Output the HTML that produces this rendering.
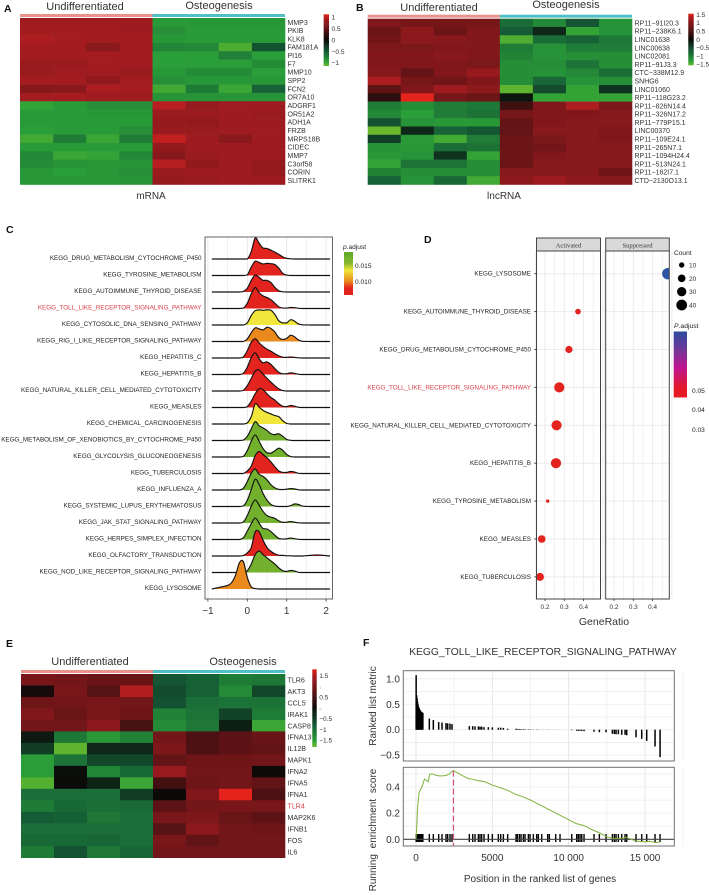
<!DOCTYPE html>
<html lang="en">
<head>
<meta charset="utf-8">
<title>Heatmaps and KEGG enrichment figure</title>
<style>
html,body{margin:0;padding:0;background:#fff;}
svg{display:block;font-family:"Liberation Sans",sans-serif;filter:blur(0.35px);}
text{fill:#222;}
.h{font-size:11px;text-anchor:middle;fill:#333;}
.p{font-size:10.5px;font-weight:bold;fill:#111;}
.l{font-size:6.6px;fill:#222;}
.a{font-size:10px;fill:#333;}
</style>
</head>
<body>
<svg id="fig" xmlns="http://www.w3.org/2000/svg" width="709" height="895" viewBox="0 0 709 895">
<defs>
<linearGradient id="gradC" x1="0" y1="0" x2="0" y2="1">
<stop offset="0" stop-color="#5fa92e"/><stop offset="0.26" stop-color="#86b62c"/><stop offset="0.42" stop-color="#f0e63c"/><stop offset="0.68" stop-color="#ea8a1e"/><stop offset="0.84" stop-color="#e3231d"/><stop offset="1" stop-color="#e3231d"/>
</linearGradient>
<linearGradient id="gradD" x1="0" y1="0" x2="0" y2="1">
<stop offset="0" stop-color="#2b4a9e"/><stop offset="0.25" stop-color="#6a3a9a"/><stop offset="0.55" stop-color="#bf1590"/><stop offset="0.85" stop-color="#e3182a"/><stop offset="1" stop-color="#e81c20"/>
</linearGradient>
<clipPath id="clipAct"><rect x="536.5" y="251" width="64" height="348"/></clipPath>
<clipPath id="clipSup"><rect x="605.5" y="251" width="64" height="348"/></clipPath>
</defs>

<text class="p" x="4" y="12">A</text>
<text class="p" x="356" y="11">B</text>
<text class="p" x="6" y="233">C</text>
<text class="p" x="424" y="243">D</text>
<text class="p" x="6" y="647">E</text>
<text class="p" x="363" y="646">F</text>

<text class="h" x="85" y="10">Undifferentiated</text>
<text class="h" x="219" y="9">Osteogenesis</text>
<text class="h" x="151" y="199" style="font-size:10px">mRNA</text>
<text class="h" x="439" y="11">Undifferentiated</text>
<text class="h" x="566" y="8">Osteogenesis</text>
<text class="h" x="504" y="199" style="font-size:10px">lncRNA</text>
<text class="h" x="90" y="665">Undifferentiated</text>
<text class="h" x="243" y="665">Osteogenesis</text>

<g id="hmA"></g>
<g id="hmB"></g>
<g id="hmE"></g>

<rect x="205" y="237" width="127.5" height="362" fill="#fff" stroke="#666" stroke-width="1"/>
<g id="ridge"></g>
<text x="343" y="249" style="font-size:6.6px"><tspan font-style="italic">p</tspan>.adjust</text>
<rect x="344" y="252" width="9" height="43" fill="url(#gradC)"/>
<text x="355" y="268" class="l">0.015</text>
<text x="355" y="284" class="l">0.010</text>

<g id="dot"></g>
<text x="604" y="625" text-anchor="middle" style="font-size:10.5px;fill:#333">GeneRatio</text>
<text x="674" y="255" class="l">Count</text>
<text x="674" y="328" style="font-size:6.8px"><tspan font-style="italic">P</tspan>.adjust</text>
<rect x="673.7" y="331.5" width="13.3" height="66" fill="url(#gradD)"/>
<text x="692" y="393" class="l">0.05</text>
<text x="692" y="412" class="l">0.04</text>
<text x="692" y="432" class="l">0.03</text>

<text x="543" y="655" text-anchor="middle" style="font-size:10.3px;fill:#333">KEGG_TOLL_LIKE_RECEPTOR_SIGNALING_PATHWAY</text>
<g id="gsea"></g>
<text x="540" y="882" text-anchor="middle" class="a">Position in the ranked list of genes</text>
<text transform="translate(376,706) rotate(-90)" text-anchor="middle" class="a">Ranked list metric</text>
<text transform="translate(376,830) rotate(-90)" text-anchor="middle" class="a" style="word-spacing:3px">Running enrichment score</text>
</svg>

<script>
/* ---------- heatmap data ---------- */
const genesA = ["MMP3","PKIB","KLK8","FAM181A","PI16","F7","MMP10","SPP2","FCN2","OR7A10","ADGRF1","OR51A2","ADH1A","FRZB","MRPS18B","CIDEC","MMP7","C3orf58","CORIN","SLITRK1"];
const valuesA = [
[.88,.88,.88,.88,-.92,-.9,-.9,-.9],
[.9,.9,.9,.88,-.85,-.92,-.92,-.92],
[.95,.92,.9,.9,-.9,-.92,-.92,-.92],
[.92,.9,.75,.88,-.78,-.8,-1.05,-.45],
[.9,.9,.92,.9,-.95,-.95,-.75,-.95],
[.85,.85,.9,.88,-.95,-.95,-.95,-.82],
[.85,.88,.88,.85,-.9,-.82,-.82,-.95],
[.92,.9,.78,.9,-.85,-.9,-.9,-.9],
[.72,.74,.95,.92,-1.02,-.72,-1,-.55],
[.92,.92,.88,.88,-.88,-.88,-.88,-.88],
[-.98,-.92,-.85,-.85,.98,.82,.88,.88],
[-.92,-.92,-.9,-.9,.85,.85,.88,.85],
[-.92,-.92,-.92,-.92,.82,.8,.88,.88],
[-.95,-.92,-.92,-.85,.85,.85,.88,.88],
[-1.02,-.72,-1,-.72,1.02,.88,.75,.88],
[-.92,-.92,-.92,-.92,.8,.88,.88,.88],
[-.8,-1,-.98,-.8,.72,.85,.88,.88],
[-.82,-.88,-.9,-.88,.98,.8,.88,.82],
[-.9,-.95,-.9,-.85,.85,.88,.88,.82],
[-.9,-.9,-.9,-.88,.82,.85,.88,.88]];
const ticksA = [1,0.5,0,-0.5,-1];

const genesB = ["RP11−91I20.3","RP11−238K6.1","LINC01638","LINC00638","LINC02081","RP11−91J3.3","CTC−338M12.9","SNHG6","LINC01060","RP11−118G23.2","RP11−826N14.4","RP11−326N17.2","RP11−779P15.1","LINC00370","RP11−109E24.1","RP11−265N7.1","RP11−1094H24.4","RP11−513N24.1","RP11−162I7.1","CTD−2130O13.1"];
const valuesB = [
[.95,.85,.85,.85,-.85,-1.1,-.65,-1.2],
[.75,1.05,.75,.95,-.7,-.25,-1.35,-1.2],
[.8,1.05,1,.95,-1.45,-.85,-.75,-.95],
[.9,.9,.95,.95,-1,-1.2,-1,-1],
[.95,.95,1,.95,-1.05,-1.2,-1.15,-1.15],
[.95,.95,.95,.9,-1.15,-1.15,-.9,-1.15],
[1,.7,.95,1.15,-1.15,-1.2,-1.1,-.85],
[1.3,.85,.8,.95,-1.15,-.8,-1.2,-1.15],
[.65,.95,1.2,1.05,-1.5,-.55,-1.35,-.35],
[.25,1.6,.85,.75,-.1,-1.35,-1.35,-1.35],
[-1,-1.15,-1,-.95,.4,.95,1.3,.9],
[-1.1,-1.3,-1,-.9,.85,.95,.95,1],
[-.6,-1.2,-1.25,-1.25,.7,.95,1,1],
[-1.6,-.25,-.75,-.65,.7,1,1,.95],
[-.45,-1.25,-1.4,-1,.75,.9,1,.95],
[-1.2,-1.25,-.85,-.9,.75,.8,1,1],
[-1.25,-1.2,-.35,-1.35,.75,.95,1,1],
[-1.35,-.9,-.9,-1.15,.75,1,1,1],
[-1.05,-1.15,-1.15,-1.15,1,1,1,.8],
[-.75,-1.2,-.8,-1.4,1.05,1.2,1.05,1]];
const ticksB = [1.5,1,0.5,0,-0.5,-1,-1.5];

const genesE = ["TLR6","AKT3","CCL5","IRAK1","CASP8","IFNA13","IL12B","MAPK1","IFNA2","IFNA5","IFNA1","TLR4","MAP2K6","IFNB1","FOS","IL6"];
const valuesE = [
[1,.95,.85,.85,-.75,-.85,-1.15,-1.1],
[.1,1,.7,1.55,-.65,-.85,-1.3,-.6],
[.9,.95,1,.95,-.7,-1,-1.05,-1.05],
[1.1,.85,1,.9,-1.2,-1.05,-.55,-1.15],
[.95,.95,1.2,.55,-1.3,-1.1,-.2,-1.6],
[-.15,-1.1,-1.45,-1.2,.95,.6,.75,.85],
[-.5,-1.75,-.3,-.3,1.05,.6,.75,.8],
[-1.5,-1.05,-.6,-.6,.8,.9,.9,.95],
[-1.5,-.03,-1.25,-.95,1.35,.95,.95,.02],
[-1.7,-.02,-.25,-1.6,.5,.9,.95,.8],
[-1,-1,-1,-.5,0,1.1,1.85,.6],
[-1.15,-.95,-1,-.95,.75,.95,1,1],
[-.8,-.85,-1.1,-1,1,1.05,.85,.75],
[-1,-1,-1,-1,.7,1.2,.95,.9],
[-.95,-.95,-.9,-1,1,.8,.95,.95],
[-1.15,-.7,-1.1,-.9,.95,.95,.95,.95]];
const ticksE = [1.5,1,0.5,0,-0.5,-1,-1.5];

/* ---------- ridge plot data ---------- */
const ridgePathways = ["KEGG_DRUG_METABOLISM_CYTOCHROME_P450","KEGG_TYROSINE_METABOLISM","KEGG_AUTOIMMUNE_THYROID_DISEASE","KEGG_TOLL_LIKE_RECEPTOR_SIGNALING_PATHWAY","KEGG_CYTOSOLIC_DNA_SENSING_PATHWAY","KEGG_RIG_I_LIKE_RECEPTOR_SIGNALING_PATHWAY","KEGG_HEPATITIS_C","KEGG_HEPATITIS_B","KEGG_NATURAL_KILLER_CELL_MEDIATED_CYTOTOXICITY","KEGG_MEASLES","KEGG_CHEMICAL_CARCINOGENESIS","KEGG_METABOLISM_OF_XENOBIOTICS_BY_CYTOCHROME_P450","KEGG_GLYCOLYSIS_GLUCONEOGENESIS","KEGG_TUBERCULOSIS","KEGG_INFLUENZA_A","KEGG_SYSTEMIC_LUPUS_ERYTHEMATOSUS","KEGG_JAK_STAT_SIGNALING_PATHWAY","KEGG_HERPES_SIMPLEX_INFECTION","KEGG_OLFACTORY_TRANSDUCTION","KEGG_NOD_LIKE_RECEPTOR_SIGNALING_PATHWAY","KEGG_LYSOSOME"];
const ridgePadj = [.007,.007,.007,.007,.0137,.0105,.007,.007,.007,.007,.0137,.018,.018,.007,.018,.018,.018,.018,.007,.018,.0105];
const ridgeX = [-.9,-.7,-.5,-.4,-.3,-.2,-.1,0,.1,.2,.3,.4,.5,.6,.7,.8,.9,1,1.1,1.2,1.3,1.4,1.6,1.8,2.1];
const ridgeDensity = [
[0,0,0,0,0,0,0,0,.35,1,.75,.52,.5,.42,.33,.22,.1,.03,.01,0,0,0,0,0,0],
[0,0,0,0,0,0,0,.03,.4,.68,.62,.55,.58,.56,.52,.35,.1,.02,0,0,0,0,0,0,0],
[0,0,0,0,0,0,.02,.18,.55,.8,.7,.55,.55,.45,.22,.06,.01,0,0,0,0,0,0,0,0],
[0,0,0,0,0,0,.02,.25,.7,1,.75,.6,.52,.42,.25,.08,.02,.02,.05,.04,.01,0,0,0,0],
[0,0,0,0,0,0,0,.1,.45,.68,.72,.7,.72,.7,.5,.2,.1,.1,.25,.18,.05,.01,0,0,0],
[0,0,0,0,0,0,0,.12,.42,.65,.6,.55,.68,.62,.45,.18,.1,.15,.3,.22,.07,.01,0,0,0],
[0,0,0,0,0,0,.05,.35,.75,.92,.72,.55,.42,.32,.2,.1,.04,.03,.05,.03,.01,0,0,0,0],
[0,0,0,0,0,0,.06,.35,.8,1.03,.75,.55,.6,.48,.28,.1,.03,.04,.08,.05,.01,0,0,0,0],
[0,0,0,0,0,0,.03,.25,.6,.95,1,.8,.6,.42,.25,.1,.02,0,0,0,0,0,0,0,0],
[0,0,0,0,0,0,0,.04,.3,.65,.9,.85,.65,.48,.35,.18,.06,.04,.1,.06,.01,0,0,0,0],
[0,0,0,0,0,0,0,.05,.35,.95,.8,.65,.55,.48,.4,.35,.15,.03,0,0,0,0,0,0,0],
[0,0,0,0,0,0,.02,.2,.55,.9,.7,.6,.48,.32,.28,.32,.2,.05,.01,0,0,0,0,0,0],
[0,0,0,0,0,0,.03,.3,.75,1.05,.75,.4,.2,.18,.3,.42,.32,.12,.02,0,0,0,0,0,0],
[0,0,0,0,0,0,0,.12,.35,.85,1.05,.9,.75,.55,.32,.12,.05,.05,.1,.07,.01,0,0,0,0],
[0,0,0,0,0,0,.08,.4,.8,1,.75,.65,.48,.25,.1,.03,.02,.04,.07,.05,.01,0,0,0,0],
[0,0,0,0,0,0,.03,.3,.8,1.3,1.05,.62,.3,.1,.02,0,0,0,.04,.12,.1,.02,0,0,0],
[0,0,0,0,0,0,.05,.35,.8,1.1,.85,.55,.35,.28,.22,.1,.03,.04,.07,.04,.01,0,0,0,0],
[0,0,0,0,0,0,.08,.4,.75,1.02,.78,.52,.5,.38,.2,.05,.02,.03,.07,.04,.01,0,0,0,0],
[0,0,0,0,0,0,.02,.15,.4,1.15,1.15,.75,.4,.22,.1,.04,.03,.01,.01,0,0,0,.03,.05,0],
[0,0,0,0,0,0,0,.08,.4,.85,1.02,.85,.7,.55,.4,.22,.08,.05,.1,.07,.01,0,0,0,0],
[0,.08,.17,.3,.65,1.25,1.3,.55,.1,.02,0,0,0,0,0,0,0,0,0,0,0,0,0,0,0]];
const ridgeTicks = [-1,0,1,2];

/* ---------- dot plot data ---------- */
const dotPathways = ["KEGG_LYSOSOME","KEGG_AUTOIMMUNE_THYROID_DISEASE","KEGG_DRUG_METABOLISM_CYTOCHROME_P450","KEGG_TOLL_LIKE_RECEPTOR_SIGNALING_PATHWAY","KEGG_NATURAL_KILLER_CELL_MEDIATED_CYTOTOXICITY","KEGG_HEPATITIS_B","KEGG_TYROSINE_METABOLISM","KEGG_MEASLES","KEGG_TUBERCULOSIS"];
const dotFacet = [1,0,0,0,0,0,0,0,0];
const dotRatio = [.479,.371,.324,.274,.26,.257,.214,.183,.174];
const dotCount = [45,11,18,36,36,36,4,20,22];
const dotTicks = [.2,.3,.4];
const legendCounts = [10,20,30,40];

/* ---------- GSEA data ---------- */
const hitRank = [10,40,70,100,130,160,200,240,280,320,360,400,450,873,1135,1485,1703,1965,2074,2227,2358,3493,3712,3865,4083,4192,4301,4454,4738,5000,5393,5546,5721,6004,6550,6638,6769,6878,7031,7140,7358,7467,7686,7904,8013,8231,8624,8734,9148,9432,10197,10524,10633,10742,10852,11004,11659,12009,12445,12860,12991,13100,13253,13472,13690,13799,14410,14782,15109,15655,15983];
const hitMetric = [1.07,.68,.62,.55,.5,.46,.43,.4,.38,.36,.35,.34,.33,.22,.19,.15,.14,.13,.125,.12,.11,.07,.07,.065,.065,.06,.06,.05,.05,.045,.04,.04,.035,.02,.018,.016,.015,.012,.01,.01,.008,.006,.005,.004,.003,.003,.002,.002,.002,.002,-.01,-.02,-.02,-.02,-.025,-.03,-.04,-.05,-.05,-.08,-.085,-.09,-.09,-.1,-.1,-.11,-.15,-.18,-.22,-.33,-.54];
const esRank = [0,50,100,200,300,450,550,700,800,900,1100,1300,1500,1800,2000,2200,2350,2450,2700,3000,3400,3700,4000,4500,5000,5500,6000,6500,7000,7500,8000,8500,9000,9500,10000,10500,11000,11500,12000,12500,13000,13500,13800,14200,14500,15000,15300,15700,16000];
const esScore = [0,.1,.24,.36,.38,.42,.46,.45,.44,.5,.5,.49,.485,.485,.49,.5,.52,.525,.51,.49,.465,.46,.45,.44,.415,.395,.375,.345,.325,.3,.27,.24,.21,.18,.15,.12,.105,.075,.05,.02,.005,.01,.015,-.005,-.015,-.02,-.015,-.025,-.02];
const leadingEdgeRank = [2450];
const gseaXTicks = [0,5000,10000,15000];
const gseaXLabels = ["0","5000","10 000","15 000"];
const metricTicks = [1,.5,0,-.5];
const esTicks = [.4,.2,0];

/* ---------- helpers ---------- */
const NS = "http://www.w3.org/2000/svg";
function add(parent, tag, attrs, text) {
  const e = document.createElementNS(NS, tag);
  for (const k in attrs) e.setAttribute(k, attrs[k]);
  if (text !== undefined) e.textContent = text;
  parent.appendChild(e);
  return e;
}
function hex(c){return [parseInt(c.slice(1,3),16),parseInt(c.slice(3,5),16),parseInt(c.slice(5,7),16)];}
function ramp(stops, t) {
  t = Math.max(stops[0][0], Math.min(stops[stops.length-1][0], t));
  for (let i = 1; i < stops.length; i++) {
    if (t <= stops[i][0]) {
      const a = stops[i-1], b = stops[i], f = (t-a[0])/(b[0]-a[0]);
      const ca = hex(a[1]), cb = hex(b[1]);
      return "rgb(" + ca.map((v,j)=>Math.round(v+(cb[j]-v)*f)).join(",") + ")";
    }
  }
  return stops[stops.length-1][1];
}
const redStops = [[0,"#0b0a08"],[.5,"#6e1518"],[.82,"#a51c20"],[1,"#e4241c"]];
const greenStops = [[0,"#0b0a08"],[.45,"#155c36"],[.85,"#2ba038"],[1,"#6ab92d"]];
function divColor(v, max){ const t = v/max; return t >= 0 ? ramp(redStops,t) : ramp(greenStops,-t); }

/* ---------- heatmaps ---------- */
function drawHeatmap(g, cfg) {
  const cols = cfg.values[0].length, rows = cfg.values.length;
  const cw = (cfg.x1-cfg.x0)/cols, rh = (cfg.y1-cfg.y0)/rows;
  const mid = (cfg.x0+cfg.x1)/2;
  const left = add(g,"rect",{x:cfg.x0,y:cfg.y0-4,width:mid-cfg.x0,height:3,fill:"#ea928c"});
  
  
  const right = add(g,"rect",{x:mid,y:cfg.y0-4,width:cfg.x1-mid,height:3,fill:"#4fc0c6"});
  
  
  cfg.values.forEach((row,r)=>{
    row.forEach((v,c)=>{
      const cell = add(g,"rect",{x:cfg.x0+c*cw,y:cfg.y0+r*rh,width:cw+.3,height:rh+.3,fill:divColor(v,cfg.max)});
      
      
    });
    const red = cfg.highlight === cfg.labels[r];
    const lab = add(g,"text",{x:cfg.x1+2.5,y:cfg.y0+(r+.5)*rh+2.6,style:"font-size:"+cfg.fs+"px;fill:"+(red?"#d8404a":"#333")},cfg.labels[r]);
    
    
  });
  const n = 50, bh = (cfg.by1-cfg.by0)/n;
  for (let i = 0; i < n; i++) {
    const val = cfg.max*(1-2*(i+.5)/n);
    const seg = add(g,"rect",{x:cfg.bx0,y:cfg.by0+i*bh,width:cfg.bx1-cfg.bx0,height:bh+.3,fill:divColor(val,cfg.max)});
    
    
  }
  const ymid = (cfg.by0+cfg.by1)/2, per = (cfg.by1-cfg.by0)/2/cfg.max;
  cfg.ticks.forEach(t=>{
    const faint = cfg.faint && (t===1||t===0);
    const lab = add(g,"text",{x:cfg.bx1+2.5,y:ymid-t*per+2.4,style:"font-size:"+(faint?4:6.6)+"px;fill:"+(faint?"#aaa":"#333")},t<0?"−"+(-t):String(t));
    
    
  });
}
drawHeatmap(document.getElementById("hmA"),{values:valuesA,labels:genesA,max:1.13,x0:20,x1:285,y0:18,y1:184.5,fs:7,bx0:323.7,bx1:329,by0:14.3,by1:65.7,ticks:ticksA});
drawHeatmap(document.getElementById("hmB"),{values:valuesB,labels:genesB,max:1.55,x0:367.7,x1:632,y0:18.7,y1:184.5,fs:7,bx0:688.3,bx1:693.7,by0:13.7,by1:65,ticks:ticksB});
drawHeatmap(document.getElementById("hmE"),{values:valuesE,labels:genesE,max:1.8,x0:21,x1:285,y0:674,y1:857.7,fs:7.1,bx0:312.3,bx1:316.7,by0:669.3,by1:746.7,ticks:ticksE,highlight:"TLR4",faint:true});

/* ---------- ridge plot ---------- */
const ridgeSx = x => 247.3 + x*39.4;
const ridgeBase = i => 259 + i*16.5;
const ridgeH = 21;
const padjStops = [[.005,"#e3231d"],[.008,"#e3231d"],[.0105,"#ea8a1e"],[.0137,"#f0e63c"],[.0165,"#86b62c"],[.0195,"#5fa92e"]];
function smooth(pts) {
  let d = "M" + pts[0][0].toFixed(2) + " " + pts[0][1].toFixed(2);
  for (let i = 0; i < pts.length-1; i++) {
    const p0 = pts[Math.max(i-1,0)], p1 = pts[i], p2 = pts[i+1], p3 = pts[Math.min(i+2,pts.length-1)];
    const c1x = p1[0]+(p2[0]-p0[0])/6, c1y = Math.min(p1[1]+(p2[1]-p0[1])/6, Math.max(p1[1],p2[1]));
    const c2x = p2[0]-(p3[0]-p1[0])/6, c2y = Math.min(p2[1]-(p3[1]-p1[1])/6, Math.max(p1[1],p2[1]));
    d += "C"+c1x.toFixed(2)+" "+c1y.toFixed(2)+" "+c2x.toFixed(2)+" "+c2y.toFixed(2)+" "+p2[0].toFixed(2)+" "+p2[1].toFixed(2);
  }
  return d;
}
(function(){
  const g = document.getElementById("ridge");
  for (let v = -1; v <= 2; v += .5) {
    const gl = add(g,"line",{x1:ridgeSx(v),x2:ridgeSx(v),y1:237.5,y2:598.5,stroke:"#e6e6e6","stroke-width":v%1===0?.9:.6});
    
    
  }
  ridgePathways.forEach((name,i)=>{
    const b = ridgeBase(i);
    const pts = ridgeX.map((x,k)=>[ridgeSx(x), b - ridgeDensity[i][k]*ridgeH]);
    const line = smooth(pts);
    const fill = add(g,"path",{d:line+"L"+pts[pts.length-1][0]+" "+b+"L"+pts[0][0]+" "+b+"Z",fill:ramp(padjStops,ridgePadj[i]),stroke:"none"});
    
    
    const curve = add(g,"path",{d:line,fill:"none",stroke:"#111","stroke-width":1.15});
    
    
    const red = name.indexOf("TOLL")>=0;
    const lab = add(g,"text",{x:201.5,y:b+1.2,"text-anchor":"end",style:"font-size:6.3px;fill:"+(red?"#d8404a":"#222")},name);
    
    
  });
  ridgeTicks.forEach(t=>{
    const tk = add(g,"line",{x1:ridgeSx(t),x2:ridgeSx(t),y1:599,y2:601.5,stroke:"#333","stroke-width":.8});
    
    
    const lab = add(g,"text",{x:ridgeSx(t),y:614,"text-anchor":"middle",style:"font-size:10px;fill:#333"},t<0?"−"+(-t):String(t));
    
    
  });
})();

/* ---------- dot plot ---------- */
const dotPanels = [{x0:536.5,x1:600.5,t0:545,title:"Activated",clip:"clipAct"},{x0:605.7,x1:669.3,t0:614,title:"Suppressed",clip:"clipSup"}];
const dotSx = (panel,r) => dotPanels[panel].t0 + (r-.2)*193;
const dotSy = i => 273.7 + i*37.9;
const dotR = c => .85*Math.sqrt(c);
const dotColor = p => p===1 ? "#2b55a5" : "#e3231d";
(function(){
  const g = document.getElementById("dot");
  dotPanels.forEach((p,pi)=>{
    const strip = add(g,"rect",{x:p.x0,y:238,width:p.x1-p.x0,height:13,fill:"#d9d9d9",stroke:"#444","stroke-width":1});
    
    
    const st = add(g,"text",{x:(p.x0+p.x1)/2,y:247.5,"text-anchor":"middle",style:"font-size:6.6px;font-family:'Liberation Serif',serif;fill:#333"},p.title);
    
    
    for (let v = .15; v < .5; v += .05) {
      const gl = add(g,"line",{x1:dotSx(pi,v),x2:dotSx(pi,v),y1:251,y2:599,stroke:"#ebebeb","stroke-width":Math.abs(v*10-Math.round(v*10))<.01?1:.7});
      
      
    }
    dotPathways.forEach((n,i)=>{
      const hl = add(g,"line",{x1:p.x0,x2:p.x1,y1:dotSy(i),y2:dotSy(i),stroke:"#ebebeb","stroke-width":1});
      
      
    });
    dotPathways.forEach((n,i)=>{
      if (dotFacet[i]!==pi) return;
      const c = add(g,"circle",{cx:dotSx(pi,dotRatio[i]),cy:dotSy(i),r:dotR(dotCount[i]),fill:dotColor(dotFacet[i]),"clip-path":"url(#"+p.clip+")"});
      
      
    });
    const bd = add(g,"rect",{x:p.x0,y:251,width:p.x1-p.x0,height:348,fill:"none",stroke:"#444","stroke-width":1});
    
    
    dotTicks.forEach(t=>{
      const tk = add(g,"line",{x1:dotSx(pi,t),x2:dotSx(pi,t),y1:599,y2:601,stroke:"#333","stroke-width":.8});
      
      
      const lab = add(g,"text",{x:dotSx(pi,t),y:609,"text-anchor":"middle",style:"font-size:6.4px;fill:#333"},t.toFixed(1));
      
      
    });
  });
  dotPathways.forEach((n,i)=>{
    const tk = add(g,"line",{x1:534.3,x2:536.5,y1:dotSy(i),y2:dotSy(i),stroke:"#333","stroke-width":.9});
    
    
    const red = n.indexOf("TOLL")>=0;
    const lab = add(g,"text",{x:531,y:dotSy(i)+2,"text-anchor":"end",style:"font-size:6.3px;fill:"+(red?"#d8404a":"#222")},n);
    
    
  });
  legendCounts.forEach((c,i)=>{
    const y = 265 + i*13.35;
    const d = add(g,"circle",{cx:681.7,cy:y,r:dotR(c),fill:"#000"});
    
    
    const lab = add(g,"text",{x:689,y:y+2.4,style:"font-size:6.6px;fill:#333"},String(c));
    
    
  });
})();

/* ---------- GSEA ---------- */
const gseaSx = r => 416 + r*.01527;
const metricSy = v => 729.7 - v*50.9;
const esSy = v => 839.3 - v*130.7;
(function(){
  const g = document.getElementById("gsea");
  const L = 403.3, R = 674.3, topA = 670.7, topB = 761, botA = 767.3, botB = 846;
  [[topA,topB,metricSy,metricTicks,.25],[botA,botB,esSy,esTicks,.1]].forEach(cfg=>{
    const bg = add(g,"rect",{x:L,y:cfg[0],width:R-L,height:cfg[1]-cfg[0],fill:"#fff"});
    
    
    for (let r = 0; r <= 17500; r += 2500) {
      const gl = add(g,"line",{x1:gseaSx(r),x2:gseaSx(r),y1:cfg[0],y2:cfg[1],stroke:r%5000===0?"#e2e2e2":"#efefef","stroke-width":.8});
      
      
    }
    for (let v = -1; v <= 1.2; v += cfg[4]) {
      const y = cfg[2](v);
      if (y < cfg[0] || y > cfg[1]) continue;
      const gl = add(g,"line",{x1:L,x2:R,y1:y,y2:y,stroke:"#ececec","stroke-width":.8});
      
      
    }
    cfg[3].forEach(t=>{
      const lab = add(g,"text",{x:400,y:cfg[2](t)+3.5,"text-anchor":"end",style:"font-size:10px;fill:#333"},(t<0?"−":"")+Math.abs(t).toFixed(1));
      
      
    });
  });
  hitRank.forEach((r,i)=>{
    const bar = add(g,"line",{x1:gseaSx(r),x2:gseaSx(r),y1:metricSy(0),y2:metricSy(hitMetric[i]),stroke:"#000","stroke-width":1.5});
    
    
    const rug = add(g,"line",{x1:gseaSx(r),x2:gseaSx(r),y1:834,y2:842,stroke:"#000","stroke-width":1.4});
    
    
  });
  const zero = add(g,"line",{x1:L,x2:R,y1:esSy(0),y2:esSy(0),stroke:"#444","stroke-width":1.1});
  
  
  const es = add(g,"polyline",{points:esRank.map((r,i)=>gseaSx(r).toFixed(2)+","+esSy(esScore[i]).toFixed(2)).join(" "),fill:"none",stroke:"#7fb33c","stroke-width":1});
  
  
  const le = add(g,"line",{x1:gseaSx(leadingEdgeRank[0]),x2:gseaSx(leadingEdgeRank[0]),y1:esSy(.525),y2:botB,stroke:"#d4506e","stroke-width":1.2,"stroke-dasharray":"6 3"});
  
  
  [[topA,topB],[botA,botB]].forEach(b=>{
    const bd = add(g,"rect",{x:L,y:b[0],width:R-L,height:b[1]-b[0],fill:"none",stroke:"#707070","stroke-width":1});
    
    
  });
  gseaXTicks.forEach((r,i)=>{
    const lab = add(g,"text",{x:gseaSx(r),y:861,"text-anchor":"middle",style:"font-size:10px;fill:#333"},gseaXLabels[i]);
    
    
  });
})();
</script>
</body>
</html>
